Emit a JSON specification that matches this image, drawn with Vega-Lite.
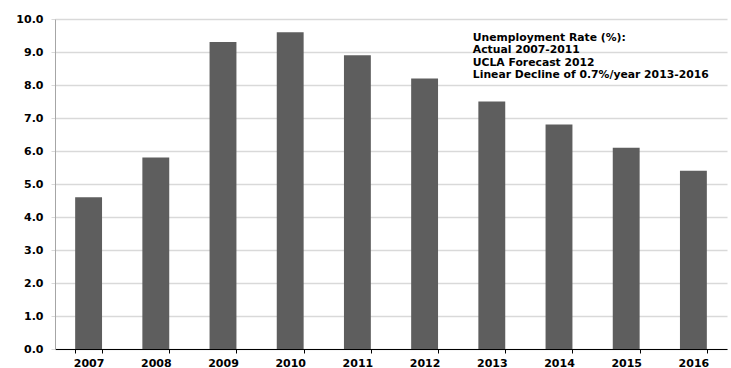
{
  "$schema": "https://vega.github.io/schema/vega-lite/v6.json",
  "width": 672,
  "height": 330,
  "autosize": {"type": "none"},
  "padding": {"left": 55, "top": 19, "right": 4, "bottom": 19},
  "background": "white",
  "config": {
    "view": {"stroke": null},
    "font": "DejaVu Sans"
  },
  "layer": [
    {
      "data": {
        "values": [
          {"year": "2007", "rate": 4.6},
          {"year": "2008", "rate": 5.8},
          {"year": "2009", "rate": 9.3},
          {"year": "2010", "rate": 9.6},
          {"year": "2011", "rate": 8.9},
          {"year": "2012", "rate": 8.2},
          {"year": "2013", "rate": 7.5},
          {"year": "2014", "rate": 6.8},
          {"year": "2015", "rate": 6.1},
          {"year": "2016", "rate": 5.4}
        ]
      },
      "mark": {"type": "bar", "color": "#5e5e5e"},
      "encoding": {
        "x": {
          "field": "year",
          "type": "nominal",
          "sort": null,
          "title": null,
          "scale": {"paddingInner": 0.6, "paddingOuter": 0.3},
          "axis": {
            "labelAngle": 0,
            "labelFont": "DejaVu Sans",
            "labelFontWeight": "bold",
            "labelFontSize": 11,
            "labelColor": "#000000",
            "labelPadding": 4,
            "domainColor": "#000000",
            "tickColor": "#000000",
            "tickSize": 4,
            "tickBand": "extent",
            "grid": false
          }
        },
        "y": {
          "field": "rate",
          "type": "quantitative",
          "title": null,
          "scale": {"domain": [0, 10], "nice": false},
          "axis": {
            "values": [0, 1, 2, 3, 4, 5, 6, 7, 8, 9, 10],
            "tickCount": 20,
            "labelOverlap": false,
            "format": ".1f",
            "labelFont": "DejaVu Sans",
            "labelFontWeight": "bold",
            "labelFontSize": 11,
            "labelColor": "#000000",
            "labelPadding": 8,
            "domainColor": "#a6a6a6",
            "tickColor": "#d9d9d9",
            "tickSize": 4,
            "gridColor": "#d9d9d9",
            "gridWidth": 1.5
          }
        }
      }
    },
    {
      "data": {
        "values": [
          {"lines": ["Unemployment Rate (%):", "Actual 2007-2011", "UCLA Forecast 2012", "Linear Decline of 0.7%/year 2013-2016"], "pos": 9.62}
        ]
      },
      "mark": {
        "type": "text",
        "align": "left",
        "baseline": "top",
        "dx": -19,
        "font": "DejaVu Sans",
        "fontWeight": "bold",
        "fontSize": 10.8,
        "lineHeight": 12.5,
        "color": "#000000"
      },
      "encoding": {
        "x": {"datum": "2013", "type": "nominal"},
        "y": {
          "field": "pos",
          "type": "quantitative",
          "title": null,
          "axis": {
            "values": [0, 1, 2, 3, 4, 5, 6, 7, 8, 9, 10],
            "tickCount": 20,
            "labelOverlap": false,
            "format": ".1f",
            "labelFont": "DejaVu Sans",
            "labelFontWeight": "bold",
            "labelFontSize": 11,
            "labelColor": "#000000",
            "labelPadding": 8,
            "domainColor": "#a6a6a6",
            "tickColor": "#d9d9d9",
            "tickSize": 4,
            "gridColor": "#d9d9d9",
            "gridWidth": 1.5
          }
        },
        "text": {"field": "lines"}
      }
    }
  ]
}
